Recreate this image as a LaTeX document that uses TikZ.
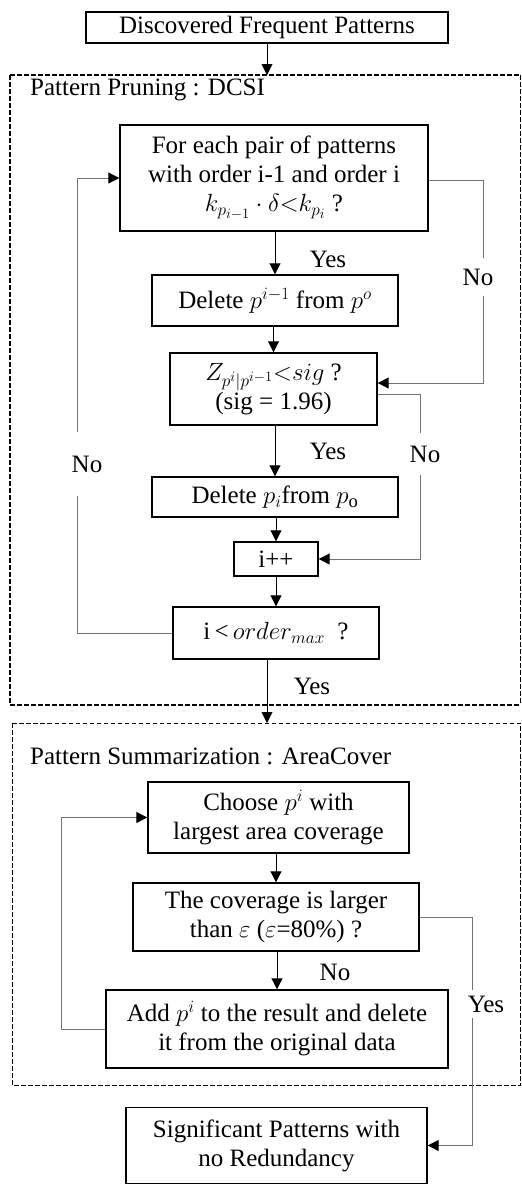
\documentclass[tikz,border=0pt]{standalone}
\usepackage{fontspec}
\setmainfont{Liberation Serif}
\usetikzlibrary{arrows.meta,calc}
% larger sub- and superscripts for the formulas in the boxes
\DeclareMathSizes{25}{25}{18.5}{14}
\begin{document}
\begin{tikzpicture}[x=1pt,y=-1pt,
  txt/.style={font=\fontsize{25}{29}\selectfont},
  box/.style={txt, draw, line width=1.4pt, inner sep=0pt, align=center},
  frameA/.style={draw, line width=1.6pt, dash pattern=on 4.5pt off 2.5pt},
  frameB/.style={draw, line width=1pt, dash pattern=on 4.5pt off 2.5pt},
  flow/.style={draw=black, line width=0.9pt, -{Triangle[width=11pt,length=11pt]}},
  back/.style={draw=black!55, line width=1pt, -{Triangle[width=11pt,length=11pt,color=black]}},
  lbl/.style={txt, inner sep=0pt},
  gaplbl/.style={txt, fill=white, inner xsep=1pt}
]
\useasboundingbox (0,0) rectangle (522,1184);

% frames of the two stages
\draw[frameA] (10,75) -- (520.5,75);
\draw[frameA] (10,75) -- (10,705) -- (520.5,705);
\draw[frameB] (520.5,75) -- (520.5,705);
\draw[frameB] (12,723) rectangle (520.5,1085);
\node[lbl, anchor=west] (t1) at (30,90) {Pattern Pruning : DCSI};
\node[lbl, anchor=west] (t2) at (30,756) {Pattern Summarization : AreaCover};

% process boxes
\node[box, minimum width=362pt, minimum height=31pt] (top) at (267,27.5) {Discovered Frequent Patterns};
\node[box, minimum width=308pt, minimum height=106pt] (b1) at (274,178)
  {For each pair of patterns\\with order i-1 and order i\\$k_{p_{i-1}}\cdot\delta{<}k_{p_i}$ ?};
\node[box, minimum width=246pt, minimum height=51pt] (b2) at (275,300.5) {Delete $p^{i-1}$ from $p^{o}$};
\node[box, minimum width=207pt, minimum height=72pt] (b3) at (273.5,389)
  {$Z_{p^i|p^{i-1}}{<}sig$ ?\\(sig = 1.96)};
\node[box, minimum width=246pt, minimum height=40pt] (b4) at (275,497) {Delete $p_i$from $p_{\mathrm{o}}$};
\node[box, minimum width=84pt, minimum height=34pt] (b5) at (276,559) {i++};
\node[box, minimum width=206pt, minimum height=52pt] (b6) at (276,633) {i\,<\,$order_{max}$\ \ ?};
\node[box, minimum width=261pt, minimum height=71pt] (b7) at (278.5,817.5)
  {Choose $p^{i}$ with\\largest area coverage};
\node[box, minimum width=286pt, minimum height=68pt] (b8) at (276,917)
  {The coverage is larger\\than $\varepsilon$ ($\varepsilon$=80\%) ?};
\node[box, minimum width=342pt, minimum height=78pt] (b9) at (277,1029)
  {Add $p^{i}$ to the result and delete\\it from the original data};
\node[box, minimum width=301pt, minimum height=76pt] (b10) at (276.5,1145.5)
  {Significant Patterns with\\no Redundancy};

% helper coordinates for the routed connectors
\coordinate (f1) at (267,75);
\coordinate (f2) at (267,723);
\coordinate (xl) at (77,0);
\coordinate (xr) at (483,0);
\coordinate (xn) at (420,0);
\coordinate (xs) at (61,0);
\coordinate (xy) at (472,0);

% main flow
\draw[flow] (top.south) -- (f1);
\draw[flow] (b1.south -| b2.north) -- (b2.north);
\draw[flow] (b2.south -| b3.north) -- (b3.north);
\draw[flow] (b3.south -| b4.north) -- (b4.north);
\draw[flow] (b4.south -| b5.north) -- (b5.north);
\draw[flow] (b5.south) -- (b6.north -| b5.south);
\draw[flow] (f1 |- b6.south) -- (f2);
\draw[flow] (b7.south -| b8.north) -- (b8.north);
\draw[flow] (b8.south -| b9.north) -- (b9.north);

% loops and branches
\draw[back] (b6.west) -| (xl |- b1.west) -- (b1.west);
\draw[back] ($(b1.east)+(0,2)$) -| ($(xr |- b3.east)+(0,-6)$) -- ($(b3.east)+(0,-6)$);
\draw[back] ($(b3.east)+(0,5)$) -| (xn |- b5.east) -- (b5.east);
\draw[back] (b9.west) -| (xs |- b7.west) -- (b7.west);
\draw[back] (b8.east) -| (xy |- b10.east) -- (b10.east);

% branch labels
\node[lbl] (y1) at (328,259) {Yes};
\node[lbl] (y2) at (328,451) {Yes};
\node[lbl] (y3) at (312,686) {Yes};
\node[lbl] (n4) at (335,972) {No};
\node[gaplbl, minimum height=64pt] (n1) at (87,464) {No};
\node[gaplbl, minimum height=38pt] (n2) at (478,277) {No};
\node[gaplbl, minimum height=42pt] (n3) at (425,454) {No};
\node[gaplbl, minimum height=28pt] (y5) at (486,1004) {Yes};
\end{tikzpicture}
\end{document}
